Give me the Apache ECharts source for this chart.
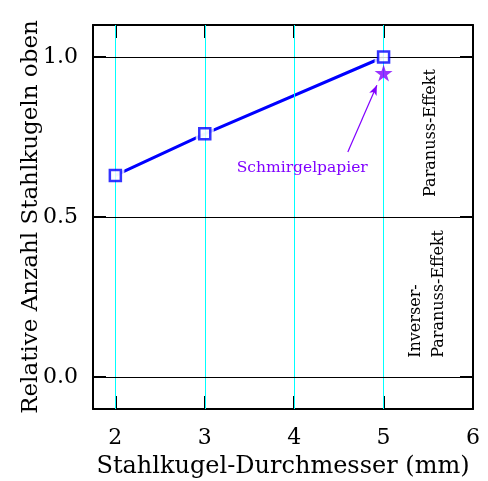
<!DOCTYPE html>
<html>
<head>
<meta charset="utf-8">
<script src="https://cdn.jsdelivr.net/npm/echarts@6/dist/echarts.min.js"></script>
<style>
html,body{margin:0;padding:0;background:#fff;}
#chart{width:488px;height:481px;}
</style>
</head>
<body>
<div id="chart"></div>
<script>
// ---- data ----
const diameters = [2, 3, 5];
const fractionTop = [0.63, 0.76, 1.0];
const sandpaperDiameter = [5];
const sandpaperFraction = [0.95];
const xTickValues = [2, 3, 4, 5, 6];
const yTickValues = [0.0, 0.5, 1.0];
const xGridValues = [2, 3, 4, 5];
const yGridValues = [0.0, 0.5, 1.0];
const arrowFrom = [4.60, 0.703];
const arrowTo = [4.925, 0.912];
const sandpaperLabelAt = [4.09, 0.653];
const xTitle = 'Stahlkugel-Durchmesser (mm)';
const yTitle = 'Relative Anzahl Stahlkugeln oben';
const sandpaperText = 'Schmirgelpapier';
const upperText = 'Paranuss-Effekt';
const lowerText = ['Inverser-', 'Paranuss-Effekt'];

const FONT = 'DejaVu Serif';
const BLUE = '#0000ff';
const PURPLE = '#8000ff';

const chart = echarts.init(document.getElementById('chart'), null, {renderer: 'canvas'});

const starPath = 'path://M50,0 L61,35 L98,35 L68,57 L79,91 L50,70 L21,91 L32,57 L2,35 L39,35 Z';

const tickStyle = {show: true, inside: true, length: 13, lineStyle: {color: '#000', width: 2}};
const axisLineStyle = {show: true, onZero: false, lineStyle: {color: '#000', width: 2}};

const option = {
  animation: false,
  backgroundColor: '#fff',
  grid: {left: 93, right: 15, top: 25, bottom: 72, containLabel: false, outerBoundsMode: 'none'},
  xAxis: [{
    type: 'value', min: 1.75, max: 6, position: 'bottom',
    name: xTitle, nameLocation: 'middle', nameGap: 46, nameMoveOverlap: false,
    nameTextStyle: {fontFamily: FONT, fontSize: 24, color: '#000'},
    axisLine: axisLineStyle,
    axisTick: Object.assign({customValues: xGridValues}, tickStyle),
    axisLabel: {customValues: xTickValues, fontFamily: FONT, fontSize: 22, color: '#000', margin: 18},
    splitLine: {show: false}
  }, {
    type: 'value', min: 1.75, max: 6, position: 'top',
    axisLine: axisLineStyle,
    axisTick: Object.assign({customValues: xGridValues}, tickStyle),
    axisLabel: {show: false},
    splitLine: {show: false}
  }],
  yAxis: [{
    type: 'value', min: -0.1, max: 1.1, position: 'left',
    name: yTitle, nameLocation: 'middle', nameGap: 50, nameRotate: 90,
    nameMoveOverlap: false,
    nameTextStyle: {fontFamily: FONT, fontSize: 23, color: '#000'},
    axisLine: axisLineStyle,
    axisTick: Object.assign({customValues: yTickValues}, tickStyle),
    axisLabel: {customValues: yTickValues, fontFamily: FONT, fontSize: 22, color: '#000', margin: 15,
      formatter: v => v.toFixed(1)},
    splitLine: {show: false}
  }, {
    type: 'value', min: -0.1, max: 1.1, position: 'right',
    axisLine: axisLineStyle,
    axisTick: Object.assign({customValues: yTickValues}, tickStyle),
    axisLabel: {show: false},
    splitLine: {show: false}
  }],
  series: [
    {
      type: 'line', data: [], z: 1, silent: true,
      markLine: {
        silent: true, symbol: 'none', animation: false,
        label: {show: false},
        lineStyle: {color: '#00ffff', width: 1, type: 'solid'},
        data: xGridValues.map(v => ({xAxis: v}))
      }
    },
    {
      type: 'line', data: [], z: 1, silent: true,
      markLine: {
        silent: true, symbol: 'none', animation: false,
        label: {show: false},
        lineStyle: {color: '#000', width: 1, type: 'solid'},
        data: yGridValues.map(v => ({yAxis: v}))
      }
    },
    {
      type: 'line', z: 3, silent: true,
      data: diameters.map((d, i) => [d, fractionTop[i]]),
      showSymbol: false, symbol: 'none',
      lineStyle: {color: BLUE, width: 3}
    },
    {
      type: 'scatter', z: 4, silent: true,
      data: diameters.map((d, i) => [d, fractionTop[i]]),
      symbol: 'rect', symbolSize: 18,
      itemStyle: {color: '#fff', borderWidth: 0}
    },
    {
      type: 'scatter', z: 5, silent: true,
      data: diameters.map((d, i) => [d, fractionTop[i]]),
      symbol: 'rect', symbolSize: 11,
      itemStyle: {color: '#fff', borderColor: BLUE, borderWidth: 2.5}
    },
    {
      type: 'scatter', z: 5, silent: true,
      data: sandpaperDiameter.map((d, i) => [d, sandpaperFraction[i]]),
      symbol: starPath, symbolSize: [18, 17],
      itemStyle: {color: PURPLE},
      markLine: {
        silent: true, animation: false,
        symbol: ['none', 'arrow'], symbolSize: [6, 10],
        label: {show: false},
        lineStyle: {color: PURPLE, width: 1.2, type: 'solid'},
        data: [[{coord: arrowFrom}, {coord: arrowTo}]]
      }
    }
  ]
};
chart.setOption(option);

function place() {
  const p1 = chart.convertToPixel({xAxisIndex: 0, yAxisIndex: 0}, sandpaperLabelAt);
  const xr = chart.convertToPixel({xAxisIndex: 0}, 6);
  const y1 = chart.convertToPixel({yAxisIndex: 0}, 0.7625);
  const y2 = chart.convertToPixel({yAxisIndex: 0}, 0.06);
  chart.setOption({
    graphic: [
      {type: 'text', x: p1[0], y: p1[1], z: 10, silent: true,
        style: {text: sandpaperText, fill: PURPLE, font: '15.5px "' + FONT + '"', align: 'center', verticalAlign: 'middle'}},
      {type: 'text', x: xr - 42, y: y1, rotation: Math.PI / 2, z: 10, silent: true,
        style: {text: upperText, fill: '#000', font: '16px "' + FONT + '"', align: 'center', verticalAlign: 'middle'}},
      {type: 'text', x: xr - 46, y: y2, rotation: Math.PI / 2, z: 10, silent: true,
        style: {text: lowerText.join('\n'), fill: '#000', font: '16px "' + FONT + '"', align: 'left', verticalAlign: 'middle', lineHeight: 23}}
    ]
  });
}
place();
</script>
</body>
</html>
